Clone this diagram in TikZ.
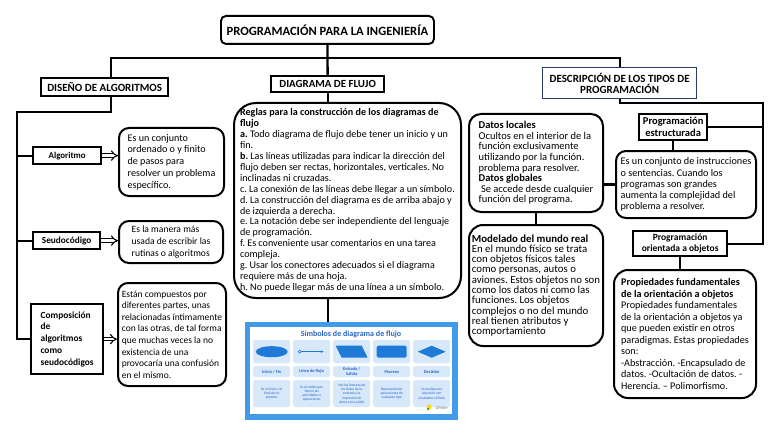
\documentclass[tikz,border=0pt]{standalone}
\usepackage{fontspec}
\setmainfont{Carlito}
\usetikzlibrary{arrows.meta}
\newcommand\fsz[2]{\fontsize{#1}{#2}\selectfont}
\frenchspacing
\definecolor{descblue}{RGB}{40,58,105}
\definecolor{imgblue}{RGB}{66,155,232}
\definecolor{cardblue}{RGB}{214,232,250}
\definecolor{shapeblue}{RGB}{30,122,214}
\definecolor{txtblue}{RGB}{40,100,200}
\tikzset{
  conn/.style={line width=2.3pt},
  hdr/.style={draw, line width=2.3pt, font=\bfseries\fsz{11}{12}, inner sep=0pt, anchor=north west},
  lab/.style={draw, line width=2.3pt, font=\bfseries\fsz{9}{11.5}, inner sep=0pt, anchor=north west, align=center},
  box/.style={draw, line width=2pt, rounded corners=10pt, inner sep=0pt, anchor=north west, align=left, font=\fsz{10}{11.5}},
  darrow/.style={double, double distance=2.4pt, line width=1.1pt, -{Implies}},
  card/.style={fill=cardblue, rounded corners=1.5pt, minimum width=37pt, anchor=north west, inner sep=0pt, align=center},
}
\begin{document}
\begin{tikzpicture}[x=1pt,y=-1pt]
\useasboundingbox (0,0) rectangle (768,433);

% headers
\node[hdr, rounded corners=5pt, line width=1.9pt, minimum width=213pt, minimum height=28pt, font=\bfseries\fsz{12.6}{14}] (title) at (220,15) {PROGRAMACIÓN PARA LA INGENIERÍA};
\node[hdr, minimum width=127pt, minimum height=18pt] (diseno) at (40,77) {DISEÑO DE ALGORITMOS};
\node[hdr, minimum width=113pt, minimum height=16pt, font=\bfseries\fsz{10.9}{12}] (flujo) at (270,75) {DIAGRAMA DE FLUJO};
\node[hdr, draw=descblue, line width=1.3pt, minimum width=154pt, minimum height=31pt, align=center, font=\bfseries\fsz{11}{11}] (desc) at (542,67) {DESCRIPCIÓN DE LOS TIPOS DE\\PROGRAMACIÓN};

% left column
\node[lab, minimum width=68pt, minimum height=17pt, font=\bfseries\fsz{8.9}{11}] (alg) at (32,146) {Algoritmo};
\node[lab, minimum width=67pt, minimum height=17pt, font=\bfseries\fsz{9.3}{11}] (seu) at (32,231) {Seudocódigo};
\node[lab, minimum width=72pt, minimum height=70pt, align=left, font=\bfseries\fsz{9.4}{11.7}] (comp) at (30,303) {Composición\\de\\algoritmos\\como\\seudocódigos};

\node[box, minimum width=105pt, minimum height=68pt, font=\fsz{10.1}{11.7}] (algd) at (118,127) {Es un conjunto\\ordenado o y finito\\de pasos para\\resolver un problema\\específico.};
\node[box, minimum width=104pt, minimum height=42pt, font=\fsz{9.6}{11.7}] (seud) at (118,220) {Es la manera más\\usada de escribir las\\rutinas o algoritmos};
\node[box, minimum width=108pt, minimum height=103pt, font=\fsz{9.5}{11.6}] (compd) at (117,282) {Están compuestos por\\diferentes partes, unas\\relacionadas íntimamente\\con las otras, de tal forma\\que muchas veces la no\\existencia de una\\provocaría una confusión\\en el mismo.};

% middle
\node[box, rounded corners=22pt, minimum width=227pt, minimum height=195pt, font=\fsz{10.1}{10.9}] (reglas) at (233,102) {\textbf{Reglas para la construcción de los diagramas de}\\\textbf{flujo}\\\textbf{a.} Todo diagrama de flujo debe tener un inicio y un\\fin.\\\textbf{b.} Las líneas utilizadas para indicar la dirección del\\flujo deben ser rectas, horizontales, verticales. No\\inclinadas ni cruzadas.\\c. La conexión de las líneas debe llegar a un símbolo.\\d. La construcción del diagrama es de arriba abajo y\\de izquierda a derecha.\\e. La notación debe ser independiente del lenguaje\\de programación.\\f. Es conveniente usar comentarios en una tarea\\compleja.\\g. Usar los conectores adecuados si el diagrama\\requiere más de una hoja.\\h. No puede llegar más de una línea a un símbolo.};

% image of symbols
\node[fill=imgblue, minimum width=213pt, minimum height=98pt, anchor=north west, inner sep=0pt] (img) at (245,322) {};
\fill[white] (250,327) rectangle (452,414);
\node[font=\bfseries\fsz{8}{9}, text=txtblue] (imgtitle) at (351,334) {Símbolos de diagrama de flujo};
\foreach \i/\lb/\ds in {0/{Inicio / Fin}/{Es el inicio y el\\final de un\\proceso},1/{Línea de flujo}/{Es el orden que\\tienen las\\actividades u\\operaciones},2/{Entrada /\\Salida}/{Son las lecturas de\\los datos de la\\entrada y la\\impresión de\\datos en la salida},3/{Proceso}/{Representa las\\operaciones de\\cualquier tipo},4/{Decisión}/{Se analiza una\\situación con\\resultados sí/falso}}{
  \node[card, minimum height=23pt] (sc\i) at (253+40*\i,340) {};
  \node[card, minimum height=11pt, font=\bfseries\fsz{4.4}{4.8}, text=txtblue] (lc\i) at (253+40*\i,366) {\lb};
  \node[card, minimum height=27pt, font=\fsz{3.6}{4.2}, text=txtblue] (dc\i) at (253+40*\i,380) {\ds};
}
\fill[shapeblue] (sc0.center) ellipse (16pt and 5.5pt);
\draw[shapeblue, line width=0.8pt, -{Stealth[length=3pt]}] ([xshift=-11pt]sc1.center) -- ([xshift=12pt]sc1.center);
\draw[shapeblue, fill=white, line width=0.6pt] ([xshift=-12pt]sc1.center) circle (1.5pt);
\fill[shapeblue] ([xshift=-10pt,yshift=-6pt]sc2.center) -- ([xshift=16pt,yshift=-6pt]sc2.center) -- ([xshift=10pt,yshift=6pt]sc2.center) -- ([xshift=-16pt,yshift=6pt]sc2.center) -- cycle;
\fill[shapeblue, rounded corners=1.5pt] ([xshift=-15pt,yshift=-6pt]sc3.center) rectangle ([xshift=15pt,yshift=6pt]sc3.center);
\fill[shapeblue] ([xshift=-14pt]sc4.center) -- ([yshift=6pt]sc4.center) -- ([xshift=14pt]sc4.center) -- ([yshift=-6pt]sc4.center) -- cycle;
\fill[yellow!80!orange] (429,407) circle (2.5pt);
\fill[green!60!black] (428,409) circle (1.2pt);
\node[font=\fsz{4.5}{5}, text=gray, anchor=west] (logo) at (432,408) {Lifeder};

% right middle
\node[box, rounded corners=12pt, minimum width=134pt, minimum height=98pt, font=\fsz{10.5}{10.6}] (datos) at (468,113) {\textbf{Datos locales}\\Ocultos en el interior de la\\función exclusivamente\\utilizando por la función.\\problema para resolver.\\\textbf{Datos globales}\\\ Se accede desde cualquier\\función del programa.};
\node[box, rounded corners=14pt, minimum width=134pt, minimum height=121pt, font=\fsz{10.8}{10.3}] (modelo) at (468,224) {\textbf{Modelado del mundo real}\\En el mundo físico se trata\\con objetos físicos tales\\como personas, autos o\\aviones. Estos objetos no son\\como los datos ni como las\\funciones. Los objetos\\complejos o no del mundo\\real tienen atributos y\\comportamiento};

% right column
\node[lab, minimum width=68pt, minimum height=26pt, font=\bfseries\fsz{10.5}{11.7}] (estr) at (638,113) {Programación\\estructurada};
\node[box, minimum width=140pt, minimum height=67pt, font=\fsz{10.2}{11.2}] (conj) at (615,150) {Es un conjunto de instrucciones\\o sentencias. Cuando los\\programas son grandes\\aumenta la complejidad del\\problema a resolver.};
\node[lab, minimum width=94pt, minimum height=25pt, font=\bfseries\fsz{9.5}{11}] (orient) at (632,230) {Programación\\orientada a objetos};
\node[box, rounded corners=14pt, minimum width=142pt, minimum height=128pt, font=\fsz{10.2}{11.5}] (prop) at (613,269) {\textbf{Propiedades fundamentales}\\\textbf{de la orientación a objetos}\\Propiedades fundamentales\\de la orientación a objetos ya\\que pueden existir en otros\\paradigmas. Estas propiedades\\son:\\-Abstracción. -Encapsulado de\\datos. -Ocultación de datos. -\\Herencia. – Polimorfismo.};

% connectors top
\coordinate (j1) at (327,58);
\coordinate (j3) at (763,103);
\coordinate (j5) at (17,112);
\draw[conn] (title.south) -- (flujo.north);
\draw[conn] ([xshift=6pt]diseno.north) |- (j1) -| (desc.north);
\draw[conn] (desc.south) |- (j3) |- (orient.east);
\draw[conn] (estr.east) -- (estr.east -| j3);
\draw[conn] (estr.south) -- (estr.south |- conj.north);
% left tree
\draw[conn] ([xshift=6pt]diseno.south) |- (j5) |- (comp.west);
\draw[conn] (alg.west) -- (alg.west -| j5);
\draw[conn] (seu.west) -- (seu.west -| j5);
\draw[darrow] (alg.east) -- (alg.east -| algd.west);
\draw[darrow] (seu.east) -- (seu.east -| seud.west);
\draw[darrow] (comp.east) -- (comp.east -| compd.west);
% middle
\draw[conn] (flujo.south) -- (flujo.south |- reglas.north);
\draw[conn] (flujo.south |- reglas.south) -- (flujo.south |- img.north);
% right middle
\draw[conn] (datos.south) -- (modelo.north);
\draw[conn] (conj.west) -- (conj.west -| datos.east);
\draw[conn] (orient.south) -- (orient.south |- prop.north);
\end{tikzpicture}
\end{document}
